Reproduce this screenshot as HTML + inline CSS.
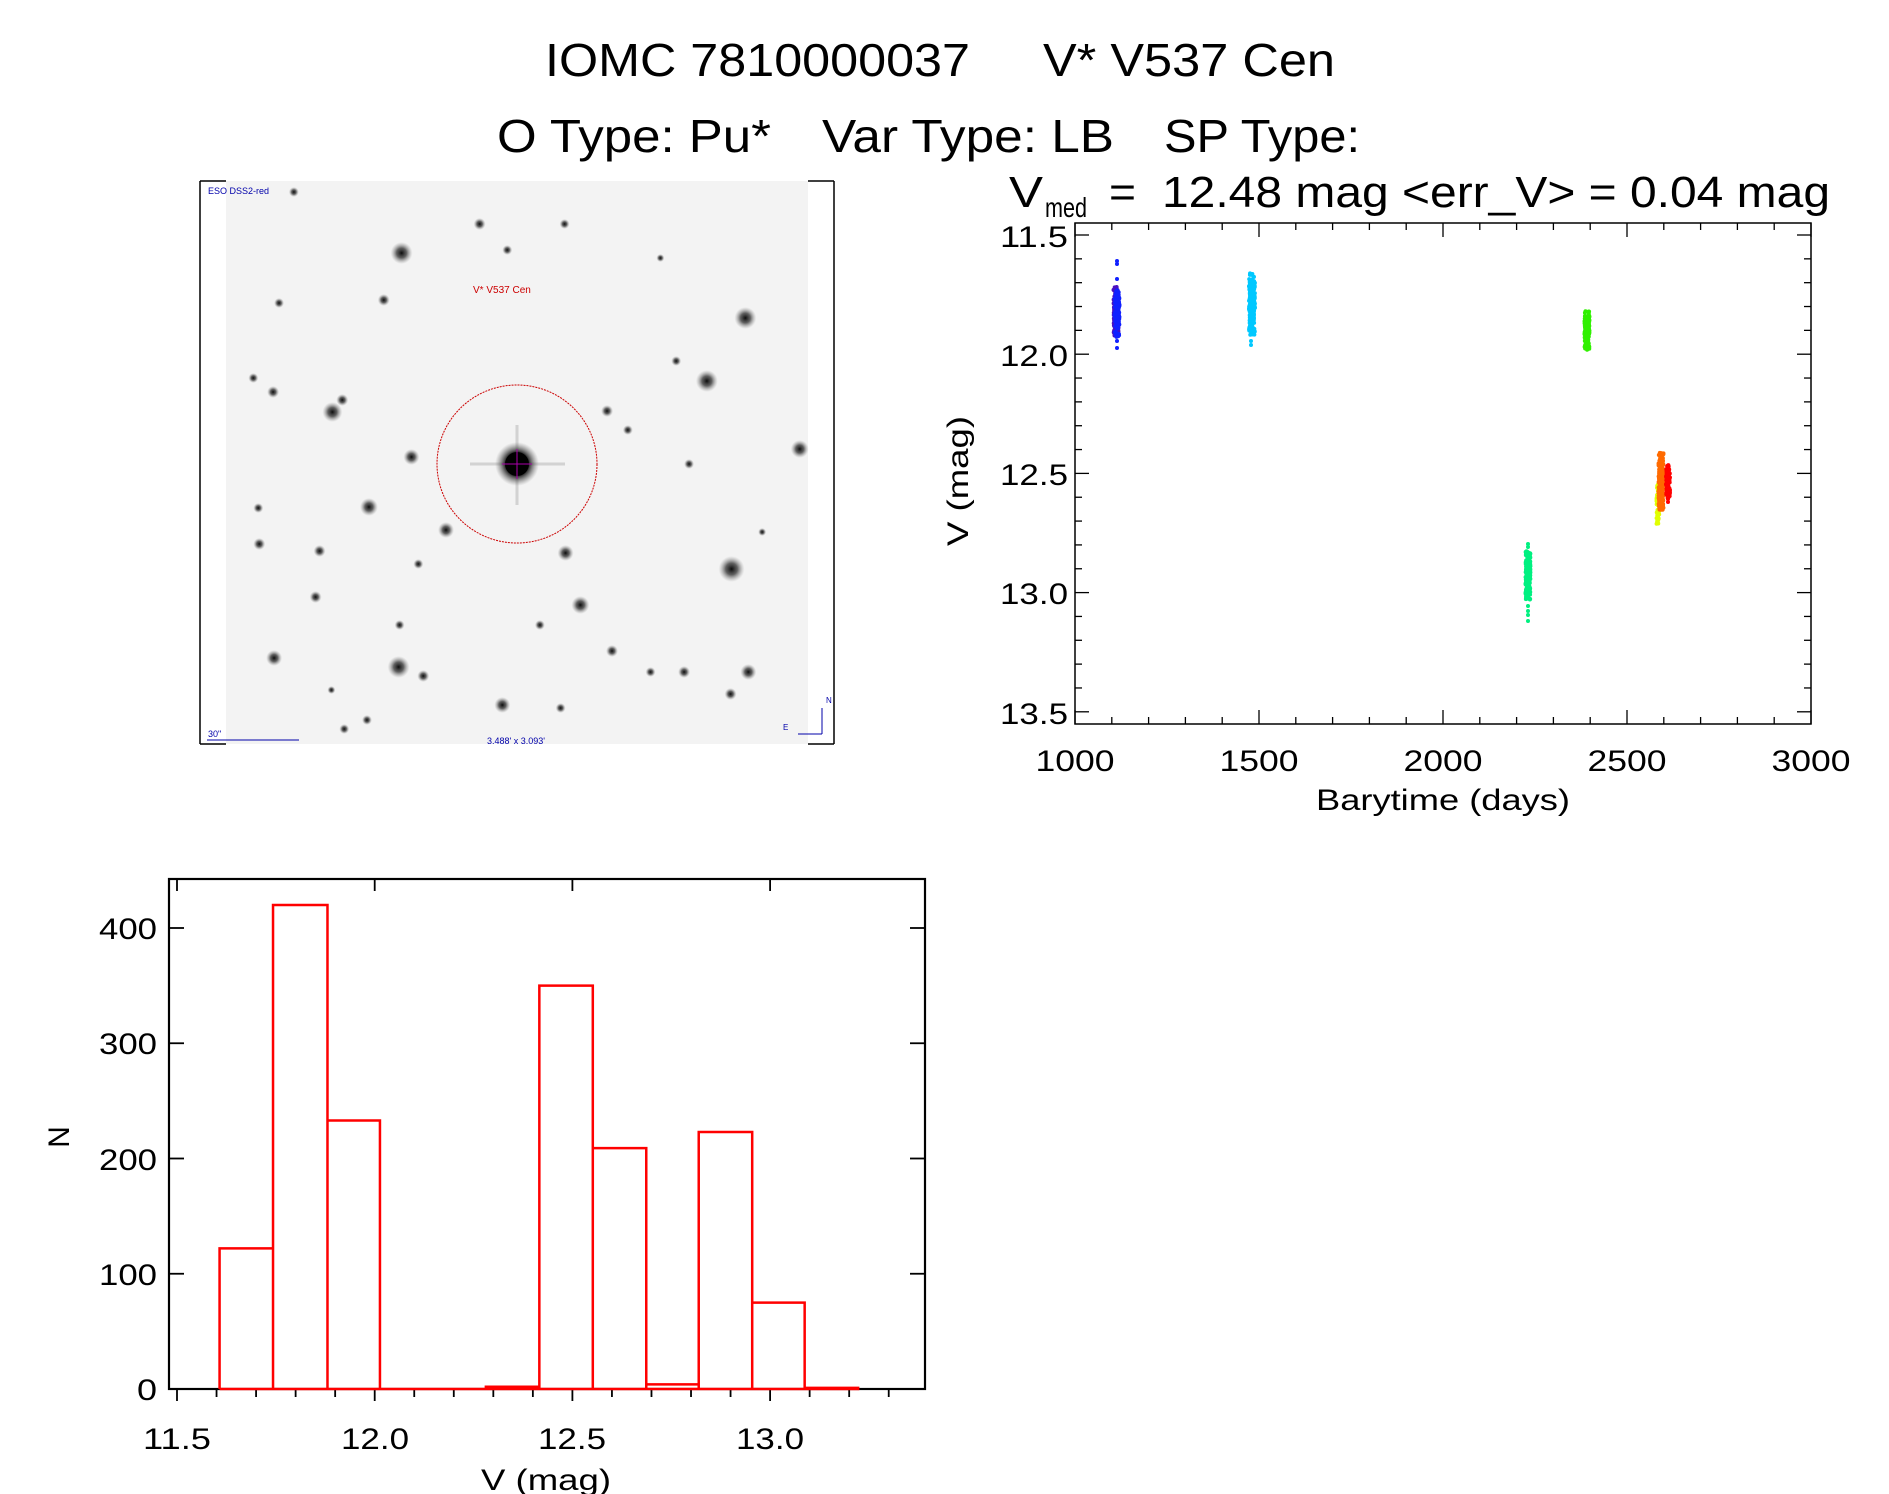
<!DOCTYPE html>
<html><head><meta charset="utf-8"><style>
html,body{margin:0;padding:0;background:#fff;}
svg{display:block;font-family:"Liberation Sans",sans-serif;}
</style></head><body>
<svg id="s" width="1889" height="1494" viewBox="0 0 1889 1494" xmlns="http://www.w3.org/2000/svg">
<defs>
<radialGradient id="st"><stop offset="0" stop-color="#000" stop-opacity="0.95"/><stop offset="0.45" stop-color="#222" stop-opacity="0.7"/><stop offset="1" stop-color="#888" stop-opacity="0"/></radialGradient>
<radialGradient id="bg"><stop offset="0" stop-color="#000"/><stop offset="0.5" stop-color="#111"/><stop offset="1" stop-color="#777" stop-opacity="0"/></radialGradient>
</defs>
<g font-size="46" fill="#000">
<text x="545" y="76" textLength="425" lengthAdjust="spacingAndGlyphs">IOMC 7810000037</text>
<text x="1043" y="76" textLength="292" lengthAdjust="spacingAndGlyphs">V* V537 Cen</text>
<text x="497" y="152" textLength="274" lengthAdjust="spacingAndGlyphs">O Type: Pu*</text>
<text x="822" y="152" textLength="292" lengthAdjust="spacingAndGlyphs">Var Type: LB</text>
<text x="1164" y="152" textLength="196" lengthAdjust="spacingAndGlyphs">SP Type:</text>
</g>
<g fill="#000">
<text x="1009" y="207" font-size="44" textLength="34" lengthAdjust="spacingAndGlyphs">V</text>
<text x="1045" y="217" font-size="28" textLength="42" lengthAdjust="spacingAndGlyphs">med</text>
<text x="1109" y="207" font-size="44" textLength="27" lengthAdjust="spacingAndGlyphs">=</text>
<text x="1162" y="207" font-size="44" textLength="668" lengthAdjust="spacingAndGlyphs">12.48 mag &lt;err_V&gt; = 0.04 mag</text>
</g>
<rect x="226" y="181" width="582" height="563" fill="#f3f3f3"/>
<g id="stars"></g>
<g stroke="#000" stroke-width="1.5" fill="none">
<line x1="200" y1="181" x2="200" y2="744"/><line x1="834" y1="181" x2="834" y2="744"/>
<line x1="200" y1="181" x2="226" y2="181"/><line x1="808" y1="181" x2="834" y2="181"/>
<line x1="200" y1="744" x2="226" y2="744"/><line x1="808" y1="744" x2="834" y2="744"/>
</g>
<g stroke="#444" stroke-width="3" opacity="0.18"><line x1="517" y1="425" x2="517" y2="505"/><line x1="470" y1="464" x2="565" y2="464"/></g>
<circle cx="517" cy="464" r="22" fill="url(#bg)"/>
<circle cx="517" cy="464" r="12" fill="#000"/>
<g stroke="#a0a" stroke-width="1"><line x1="517" y1="449" x2="517" y2="479"/><line x1="502" y1="464" x2="532" y2="464"/></g>
<ellipse cx="517" cy="464" rx="80" ry="79" fill="none" stroke="#c00" stroke-width="1" stroke-dasharray="2,1"/>
<text x="473" y="293" font-size="10" fill="#c00">V* V537 Cen</text>
<text x="208" y="194" font-size="9" fill="#00a">ESO DSS2-red</text>
<text x="208" y="737" font-size="9" fill="#00a">30"</text>
<line x1="207" y1="740" x2="299" y2="740" stroke="#00a" stroke-width="1"/>
<text x="487" y="744" font-size="9" fill="#00a">3.488' x 3.093'</text>
<g stroke="#00a" stroke-width="1" fill="none"><line x1="822" y1="734" x2="822" y2="708"/><line x1="798" y1="734" x2="822" y2="734"/></g>
<text x="826" y="703" font-size="8" fill="#00a">N</text><text x="783" y="730" font-size="8" fill="#00a">E</text>

<g id="lc"></g>
<g id="lcax" stroke="#000" fill="none"></g>
<g font-size="30" fill="#000" text-anchor="end">
<text x="1068" y="247" textLength="68" lengthAdjust="spacingAndGlyphs">11.5</text>
<text x="1068" y="366" textLength="68" lengthAdjust="spacingAndGlyphs">12.0</text>
<text x="1068" y="485" textLength="68" lengthAdjust="spacingAndGlyphs">12.5</text>
<text x="1068" y="604" textLength="68" lengthAdjust="spacingAndGlyphs">13.0</text>
<text x="1068" y="724" textLength="68" lengthAdjust="spacingAndGlyphs">13.5</text>
</g>
<g font-size="30" fill="#000" text-anchor="middle">
<text x="1075" y="771" textLength="79" lengthAdjust="spacingAndGlyphs">1000</text>
<text x="1259" y="771" textLength="79" lengthAdjust="spacingAndGlyphs">1500</text>
<text x="1443" y="771" textLength="79" lengthAdjust="spacingAndGlyphs">2000</text>
<text x="1627" y="771" textLength="79" lengthAdjust="spacingAndGlyphs">2500</text>
<text x="1811" y="771" textLength="79" lengthAdjust="spacingAndGlyphs">3000</text>
<text x="1443" y="810" textLength="254" lengthAdjust="spacingAndGlyphs">Barytime (days)</text>
<text transform="translate(968,481) rotate(-90)" textLength="130" lengthAdjust="spacingAndGlyphs">V (mag)</text>
</g>

<g id="hax" stroke="#000" fill="none"></g>
<path id="hist" fill="none" stroke="#f00" stroke-width="2.5"/>
<g font-size="30" fill="#000" text-anchor="end">
<text x="157" y="1400" textLength="20" lengthAdjust="spacingAndGlyphs">0</text>
<text x="157" y="1285" textLength="58" lengthAdjust="spacingAndGlyphs">100</text>
<text x="157" y="1170" textLength="58" lengthAdjust="spacingAndGlyphs">200</text>
<text x="157" y="1054" textLength="58" lengthAdjust="spacingAndGlyphs">300</text>
<text x="157" y="939" textLength="58" lengthAdjust="spacingAndGlyphs">400</text>
</g>
<g font-size="30" fill="#000" text-anchor="middle">
<text x="177" y="1449" textLength="68" lengthAdjust="spacingAndGlyphs">11.5</text>
<text x="375" y="1449" textLength="68" lengthAdjust="spacingAndGlyphs">12.0</text>
<text x="572" y="1449" textLength="68" lengthAdjust="spacingAndGlyphs">12.5</text>
<text x="770" y="1449" textLength="68" lengthAdjust="spacingAndGlyphs">13.0</text>
<text x="546" y="1490" textLength="130" lengthAdjust="spacingAndGlyphs">V (mag)</text>
<text transform="translate(69,1137) rotate(-90)">N</text>
</g>
</svg>
<script>
var NS="http://www.w3.org/2000/svg";
function el(p,t,a){var e=document.createElementNS(NS,t);for(var k in a)e.setAttribute(k,a[k]);p.appendChild(e);return e;}
var seed=7;function rnd(){seed=(seed*16807)%2147483647;return seed/2147483647;}
function gauss(){return (rnd()+rnd()+rnd()+rnd()-2)/2;}
var S=[[404,253,11],[752,318,11],[713,381,11],[334,412,10],[344,400,6],[414,457,8],[807,449,9],[371,507,9],[449,530,8],[570,553,8],[738,569,13],[585,605,9],[275,658,8],[401,667,11],[426,676,6],[506,705,8],[755,672,8],[737,694,6],[690,672,6],[617,651,6],[317,597,6],[321,551,6],[260,544,6],[274,392,6],[254,378,5],[386,300,6],[483,224,6],[569,224,5],[511,250,5],[682,361,5],[612,411,6],[633,430,5],[695,464,5],[295,192,5],[280,303,5],[259,508,5],[402,625,5],[421,564,5],[544,625,5],[769,532,4],[666,258,4],[565,708,5],[369,720,5],[346,729,5],[333,690,4],[656,672,5]];
var g=document.getElementById("stars");
S.forEach(function(s){el(g,"circle",{cx:200+(s[0]-200)*0.988,cy:s[1],r:s[2],fill:"url(#st)"});});
var a=document.getElementById("lcax");
el(a,"rect",{x:1075,y:223,width:736,height:501,"stroke-width":1.5});
for(var i=0;i<=20;i++){var y=235+i*23.84;var L=(i%5==0)?14:7;
 el(a,"line",{x1:1075,y1:y,x2:1075+L,y2:y,"stroke-width":1.3});el(a,"line",{x1:1811,y1:y,x2:1811-L,y2:y,"stroke-width":1.3});}
for(var i=0;i<=20;i++){var x=1075+i*36.8;var L=(i%5==0)?14:7;
 el(a,"line",{x1:x,y1:724,x2:x,y2:724-L,"stroke-width":1.3});el(a,"line",{x1:x,y1:223,x2:x,y2:223+L,"stroke-width":1.3});}
var lc=document.getElementById("lc");
function cl(x,y0,y1,n,col,w){for(var i=0;i<n;i++){var y=y0+(y1-y0)*(0.5+gauss()*0.9);if(y<y0)y=y0+rnd()*4;if(y>y1)y=y1-rnd()*4;el(lc,"circle",{cx:x+(rnd()-0.5)*w,cy:y,r:2,fill:col});}}
cl(1116,287,337,120,"#4a10c0",5);cl(1117,290,337,120,"#1020ff",5);
[261,264,279,341,348].forEach(function(y){el(lc,"circle",{cx:1117,cy:y,r:2,fill:"#1020ff"});});
cl(1252,273,335,200,"#00c8ff",6);[341,345].forEach(function(y){el(lc,"circle",{cx:1251,cy:y,r:2,fill:"#00c8ff"});});
cl(1587,310,350,150,"#30f000",5);
cl(1528,551,600,180,"#00f080",5);[544,547,606,611,615,621].forEach(function(y){el(lc,"circle",{cx:1528,cy:y,r:2,fill:"#00f080"});});
cl(1658,484,525,60,"#e0ff00",3);
cl(1661,452,512,200,"#ff6a00",5);
cl(1668,465,500,100,"#ff0000",4);[499,502].forEach(function(y){el(lc,"circle",{cx:1668,cy:y,r:2,fill:"#f00"});});
var h=document.getElementById("hax");
el(h,"rect",{x:169,y:879,width:756,height:510,"stroke-width":2.2});
for(var i=0;i<=18;i++){var x=177+i*39.54;var L=(i%5==0)?12:8;
 el(h,"line",{x1:x,y1:1389,x2:x,y2:1389+L,"stroke-width":1.8});
 if(i%5==0)el(h,"line",{x1:x,y1:879,x2:x,y2:891,"stroke-width":1.8});}
for(var k=0;k<=4;k++){var y=1389-k*115.25;
 el(h,"line",{x1:169,y1:y,x2:184,y2:y,"stroke-width":1.8});el(h,"line",{x1:925,y1:y,x2:910,y2:y,"stroke-width":1.8});}
var E0=[222,276,331,384,438,491,545,599,653,706,760,813,867],E=E0.map(function(v){return 177+(v-179)*0.99;}),H=[122,420,233,0,0,2,350,209,4,223,75,1];
var d="M"+E[0]+" 1389";
for(var i=0;i<H.length;i++){var y=1389-H[i]*1.1525;d+=" L"+E[i]+" "+y+" L"+E[i+1]+" "+y+" L"+E[i+1]+" 1389";}
d+=" L"+E[0]+" 1389";
for(var i=1;i<H.length;i++)d+=" M"+E[i]+" 1389 L"+E[i]+" "+(1389-Math.min(H[i-1],H[i])*1.1525);
document.getElementById("hist").setAttribute("d",d);
</script>
</body></html>
